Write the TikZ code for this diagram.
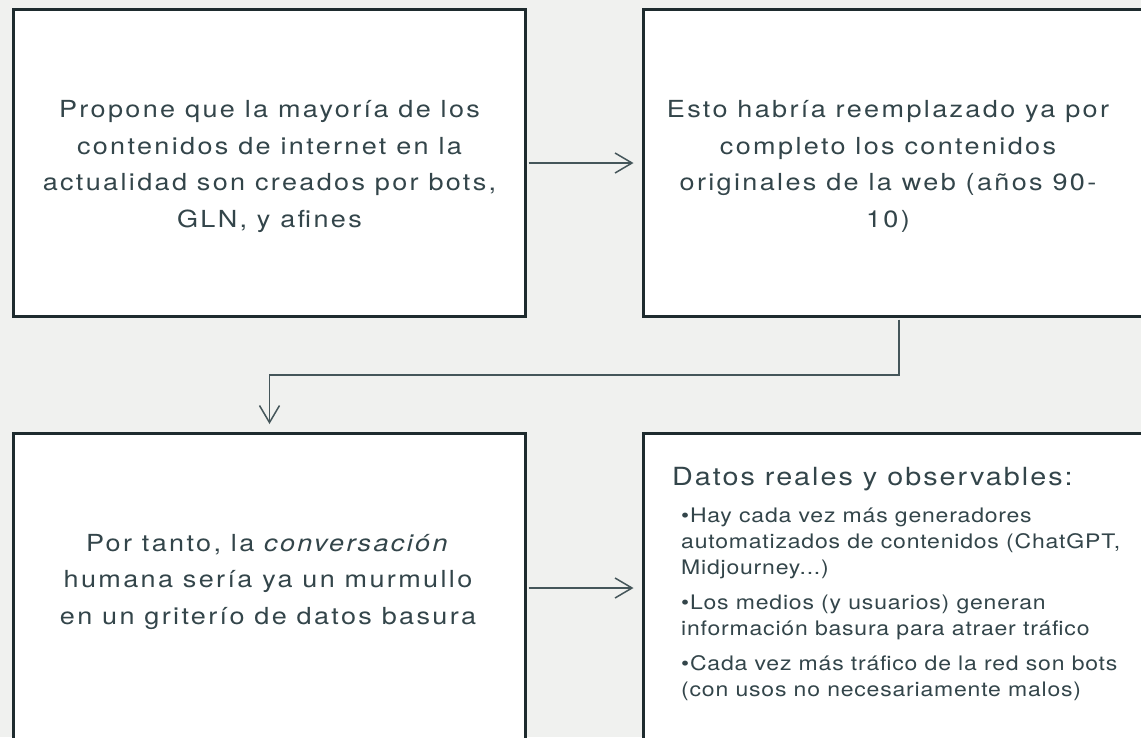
\documentclass[tikz,border=0pt]{standalone}
\usepackage{fontspec}
\setmainfont{TeX Gyre Heros}
\newfontfamily\bodyfont[FakeStretch=1.15,LetterSpace=10]{TeX Gyre Heros}
\newfontfamily\titlefont[FakeStretch=1.15,LetterSpace=8]{TeX Gyre Heros}
\newfontfamily\listfont[FakeStretch=1.15,LetterSpace=4]{TeX Gyre Heros}
\usetikzlibrary{arrows.meta}
\definecolor{bg}{HTML}{F0F1EF}
\definecolor{edge}{HTML}{1E2B2E}
\definecolor{ink}{HTML}{33454A}
\definecolor{wire}{HTML}{45565A}
\begin{document}
\begin{tikzpicture}[x=1pt,y=-1pt,
  box/.style={draw=edge, line width=3pt, fill=white, minimum width=512pt, minimum height=307pt, inner sep=0pt},
  body/.style={text=ink, align=center, font=\bodyfont\fontsize{23.5}{36.5}\selectfont, anchor=base, inner sep=0pt},
  conn/.style={draw=wire, line width=1.5pt, -{Straight Barb[length=17pt,width=20pt]}, shorten >=8pt, shorten <=1.5pt},
 ]
\clip (0,0) rectangle (1141,737);
\fill[bg] (0,0) rectangle (1141,737);
\node[box] (tl) at (269.5,163) {};
\node[box] (tr) at (899,163) {};
\node[box, minimum height=309pt] (bl) at (269.5,588) {};
\node[box, minimum height=309pt] (br) at (899,588) {};
\node[body] (t1) at (269.5,227) {Propone que la mayoría de los\\contenidos de internet en la\\actualidad son creados por bots,\\GLN, y afines};
\node[body] (t2) at (888,227) {Esto habría reemplazado ya por\\completo los contenidos\\originales de la web (años 90-\\10)};
\node[body] (t3) at (268,624) {Por tanto, la \textit{conversación}\\humana sería ya un murmullo\\en un griterío de datos basura};
\node[anchor=base west, text=ink, font=\titlefont\fontsize{25}{30}\selectfont, inner sep=0pt] (t4) at (672,485) {Datos reales y observables:};
\node[anchor=base west, text=ink, align=left, inner sep=0pt, font=\listfont\fontsize{20}{26}\selectfont] (t5) at (681,696) {•Hay cada vez más generadores\\automatizados de contenidos (ChatGPT,\\Midjourney...)\\[9pt]•Los medios (y usuarios) generan\\información basura para atraer tráfico\\[9pt]•Cada vez más tráfico de la red son bots\\(con usos no necesariamente malos)};
\coordinate (mid) at (0,375);
\draw[conn] (tl.east) -- (tr.west);
\draw[conn] (tr.south) -- (tr.south |- mid) -| (bl.north);
\draw[conn] (bl.east) -- (br.west);
\end{tikzpicture}
\end{document}
